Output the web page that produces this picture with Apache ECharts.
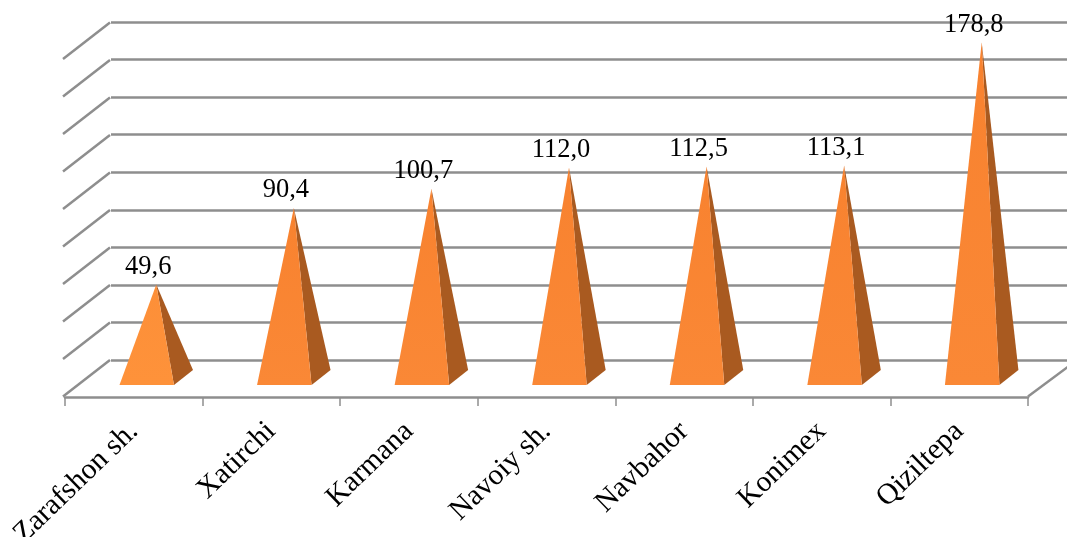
<!DOCTYPE html>
<html><head><meta charset="utf-8">
<style>html,body{margin:0;padding:0;background:#fff}#c{width:1067px;height:537px}</style>
<script src="https://cdn.jsdelivr.net/npm/echarts@6/dist/echarts.min.js"></script>
</head><body><div id="c"></div>
<script>
const categories = ["Zarafshon sh.", "Xatirchi", "Karmana", "Navoiy sh.", "Navbahor", "Konimex", "Qiziltepa"];
const values = [49.6, 90.4, 100.7, 112.0, 112.5, 113.1, 178.8];
const gridTicks = [0, 20, 40, 60, 80, 100, 120, 140, 160, 180];

const FONT = '"Liberation Serif", "Times New Roman", serif';
const LINE = '#8e8e8e';
const chart = echarts.init(document.getElementById('c'), null, {renderer: 'canvas'});

function renderDiagonal(params, api) {
  const p = api.coord([0, api.value(0)]);
  const halfCat = api.size([1, 0])[0] / 2;
  const x = p[0] - halfCat - 2, y = p[1] - 0.5;
  const items = [{type: 'line', shape: {x1: x, y1: y, x2: x + 47, y2: y - 36.5},
    style: {stroke: LINE, lineWidth: 2.5}}];
  if (api.value(0) === 0) {
    const rx = x + 2 + halfCat * 2 * categories.length;
    items.push({type: 'line', shape: {x1: rx, y1: y, x2: rx + 47, y2: y - 35},
      style: {stroke: LINE, lineWidth: 2.5}});
  }
  return {type: 'group', children: items};
}

function renderPyramid(params, api) {
  const idx = api.value(0), val = api.value(1);
  const base = api.coord([idx, 0]);
  const top = api.coord([idx, val]);
  const apex = [top[0] + 22.5, top[1] - 19.5];
  const fl = [base[0] - 14.3, base[1] - 12];
  const fr = [base[0] + 40.2, base[1] - 12];
  const br = [base[0] + 59.2, base[1] - 27];
  const frontFill = new echarts.graphic.LinearGradient(0, 0, 0, 1, [
    {offset: 0, color: idx === 0 ? '#fd8f38' : '#f8822f'},
    {offset: 1, color: idx === 0 ? '#fe923a' : '#fa8836'}
  ]);
  return {type: 'group', children: [
    {type: 'polygon', shape: {points: [apex, fr, br]}, style: {fill: '#a95a20'}},
    {type: 'polygon', shape: {points: [apex, fl, fr]}, style: {fill: frontFill}},
    {type: 'text', x: apex[0] - 8, y: apex[1] - 4,
      style: {text: val.toFixed(1).replace('.', ','), font: '26.5px ' + FONT,
        fill: '#000', textAlign: 'center', textVerticalAlign: 'bottom'}}
  ]};
}

chart.setOption({
  animation: false,
  backgroundColor: '#fff',
  grid: [
    {left: 65, width: 963, top: 59.5, height: 337.5, outerBoundsMode: 'none'},
    {left: 111, width: 963, top: 22, height: 338, outerBoundsMode: 'none'}
  ],
  xAxis: [
    {type: 'category', gridIndex: 0, data: categories, boundaryGap: true,
      axisLine: {lineStyle: {color: LINE, width: 2.5}},
      axisTick: {show: true, length: 9, lineStyle: {color: LINE, width: 1.5}},
      axisLabel: {rotate: 44, interval: 0, hideOverlap: false, margin: 30, color: '#000',
        fontFamily: FONT, fontSize: 29.5}},
    {type: 'category', gridIndex: 1, data: categories, show: false}
  ],
  yAxis: [
    {type: 'value', gridIndex: 0, min: 0, max: 180, interval: 20, show: false, splitLine: {show: false}},
    {type: 'value', gridIndex: 1, min: 0, max: 180, interval: 20,
      axisLine: {show: false}, axisTick: {show: false}, axisLabel: {show: false},
      splitLine: {show: true, lineStyle: {color: LINE, width: 2.5}}}
  ],
  series: [
    {type: 'custom', xAxisIndex: 0, yAxisIndex: 0, z: 2, silent: true, clip: false,
      renderItem: renderDiagonal, encode: {y: 0}, data: gridTicks.map(v => [v])},
    {type: 'custom', xAxisIndex: 0, yAxisIndex: 0, z: 5, silent: true, clip: false,
      renderItem: renderPyramid, encode: {x: 0, y: 1}, data: values.map((v, i) => [i, v])}
  ]
});
</script></body></html>
